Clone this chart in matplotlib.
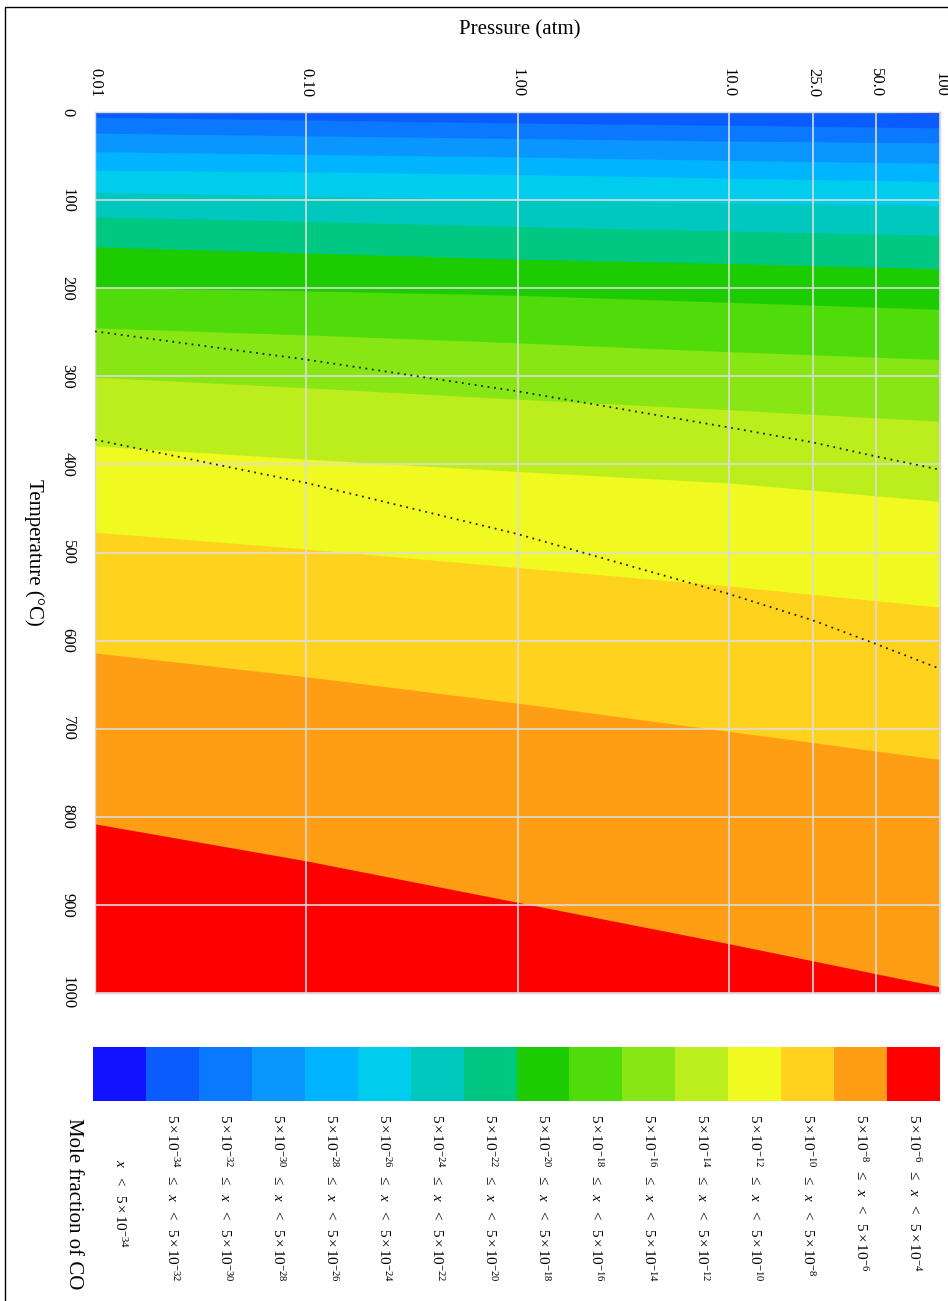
import numpy as np
import matplotlib
matplotlib.use('Agg')
import matplotlib.pyplot as plt
from matplotlib.colors import ListedColormap, BoundaryNorm
from matplotlib.patches import Rectangle
from matplotlib.ticker import NullLocator

plt.rcParams['font.family'] = ['Liberation Serif', 'DejaVu Serif']
plt.rcParams['mathtext.fontset'] = 'custom'
plt.rcParams['mathtext.rm'] = 'Liberation Serif'
plt.rcParams['mathtext.it'] = 'Liberation Serif:italic'

# ---------------- data ----------------
P_pts = [0.01, 0.1, 1, 10, 100]
# temperature (degC) of each band boundary at the pressures above
b01 = [-9, -7, -4.5, -2, 1.5]
b02 = [6, 9, 12.5, 15, 18]
b03 = [24, 27, 30, 33, 35]
b04 = [45, 48, 51, 55, 58]
b05 = [66, 68, 71, 75, 79]
b06 = [91, 95, 100, 103, 106]
b07 = [119, 124, 130, 135, 140]
b08 = [153, 160, 167, 172, 178]
b09 = [199, 203, 208, 216, 224]
b10 = [245, 253, 262, 272, 281]
b11 = [301, 313, 326, 338, 351]
b12 = [379, 394, 408, 421, 442]
b13 = [477, 496, 517, 538, 562]
b14 = [614, 641, 671, 703, 735]
b15 = [808, 850, 897, 944, 993]

P_dot = [0.01, 0.1, 1, 10, 25, 50, 100]
T_dot_upper = [249, 281, 317, 358, 375, 391, 406]
T_dot_lower = [372, 421, 479, 547, 577, 604, 632]

band_colors = ['#1212ff', '#0a5cff', '#0a78ff', '#0a96ff', '#00b4ff', '#00ccee',
               '#00c8be', '#00c882', '#1ccc00', '#50dc0a', '#88e614', '#bcee1e',
               '#f0fa20', '#ffd21e', '#ff9e14', '#ff0000']

band_labels = [
    r'            $x\ \ <\ \ 5\,{\times}\,10^{-34}$',
    r'$5\,{\times}\,10^{-34}\ \ \leq\ \ x\ \ <\ \ 5\,{\times}\,10^{-32}$',
    r'$5\,{\times}\,10^{-32}\ \ \leq\ \ x\ \ <\ \ 5\,{\times}\,10^{-30}$',
    r'$5\,{\times}\,10^{-30}\ \ \leq\ \ x\ \ <\ \ 5\,{\times}\,10^{-28}$',
    r'$5\,{\times}\,10^{-28}\ \ \leq\ \ x\ \ <\ \ 5\,{\times}\,10^{-26}$',
    r'$5\,{\times}\,10^{-26}\ \ \leq\ \ x\ \ <\ \ 5\,{\times}\,10^{-24}$',
    r'$5\,{\times}\,10^{-24}\ \ \leq\ \ x\ \ <\ \ 5\,{\times}\,10^{-22}$',
    r'$5\,{\times}\,10^{-22}\ \ \leq\ \ x\ \ <\ \ 5\,{\times}\,10^{-20}$',
    r'$5\,{\times}\,10^{-20}\ \ \leq\ \ x\ \ <\ \ 5\,{\times}\,10^{-18}$',
    r'$5\,{\times}\,10^{-18}\ \ \leq\ \ x\ \ <\ \ 5\,{\times}\,10^{-16}$',
    r'$5\,{\times}\,10^{-16}\ \ \leq\ \ x\ \ <\ \ 5\,{\times}\,10^{-14}$',
    r'$5\,{\times}\,10^{-14}\ \ \leq\ \ x\ \ <\ \ 5\,{\times}\,10^{-12}$',
    r'$5\,{\times}\,10^{-12}\ \ \leq\ \ x\ \ <\ \ 5\,{\times}\,10^{-10}$',
    r'$5\,{\times}\,10^{-10}\ \ \leq\ \ x\ \ <\ \ 5\,{\times}\,10^{-8}$',
    r'$5\,{\times}\,10^{-8}\ \ \leq\ \ x\ \ <\ \ 5\,{\times}\,10^{-6}$',
    r'$5\,{\times}\,10^{-6}\ \ \leq\ \ x\ \ <\ \ 5\,{\times}\,10^{-4}$',
]

p_ticks = [0.01, 0.1, 1, 10, 25, 50, 100]
p_ticklabels = ['0.01', '0.10', '1.00', '10.0', '25.0', '50.0', '100']
t_ticks = [0, 100, 200, 300, 400, 500, 600, 700, 800, 900, 1000]
t_ticklabels = [str(t) for t in t_ticks]

# ---------------- figure ----------------
W, H = 948, 1301
fig = plt.figure(figsize=(W / 100, H / 100), dpi=100)
fig.patch.set_facecolor('white')

ax = fig.add_axes([95 / W, 1 - 993 / H, 845 / W, 881 / H])
ax.set_xscale('log')

bounds = [b01, b02, b03, b04, b05, b06, b07, b08, b09, b10, b11, b12, b13, b14, b15]
bottom_edge = [1100] * len(P_pts)
top_edge = [-100] * len(P_pts)
for k, col in enumerate(band_colors):
    lo = top_edge if k == 0 else bounds[k - 1]
    ax.fill_between(P_pts, lo, bottom_edge, color=col, linewidth=0, zorder=1)

ax.plot(P_dot, T_dot_upper, color='#222222', lw=1.3, linestyle=(0, (1, 2.6)), zorder=3)
ax.plot(P_dot, T_dot_lower, color='#222222', lw=1.3, linestyle=(0, (1, 2.6)), zorder=3)

ax.set_xlim(0.01, 100)
ax.set_ylim(1000, 0)
ax.xaxis.set_ticks_position('top')
ax.set_xticks(p_ticks)
ax.set_xticklabels(p_ticklabels, rotation=-90, fontsize=12)
ax.xaxis.set_minor_locator(NullLocator())
ax.set_yticks(t_ticks)
ax.set_yticklabels(t_ticklabels, rotation=-90, fontsize=12, va='center')
ax.tick_params(axis='x', length=0, pad=11)
ax.tick_params(axis='y', length=0, pad=14)
ax.grid(True, color='#dcdcdc', lw=1.3, alpha=0.9, zorder=2)
for s in ax.spines.values():
    s.set_color('#d8d8d8')
    s.set_linewidth(1.0)

fig.text(520 / W, 1 - 30 / H, 'Pressure (atm)', fontsize=15, ha='center', va='center')
fig.text(34 / W, 1 - 552 / H, 'Temperature (\u00b0C)', fontsize=15, rotation=-90,
         ha='center', va='center')

# ---------------- colour bar ----------------
cax = fig.add_axes([93 / W, 1 - 1101 / H, 847 / W, 54 / H])
n = len(band_colors)
cmap = ListedColormap(band_colors)
norm = BoundaryNorm(np.arange(n + 1) - 0.5, n)
cax.pcolormesh(np.arange(n + 1), [0, 1], np.arange(n)[None, :], cmap=cmap, norm=norm)
cax.set_xlim(0, n)
cax.set_ylim(0, 1)
cax.set_xticks(np.arange(n) + 0.5)
cax.set_xticklabels(band_labels, rotation=-90, fontsize=11, va='top', ha='center')
cax.set_yticks([])
cax.tick_params(axis='x', length=0, pad=9)
for s in cax.spines.values():
    s.set_visible(False)

fig.text(73 / W, 1 - 1204 / H, 'Mole fraction of CO', fontsize=15, rotation=-90,
         ha='center', va='center')

# outer frame (cropped screenshot border)
fig.add_artist(Rectangle((5 / W, -0.1), 2, (1 - 7 / H) + 0.1, transform=fig.transFigure,
                         fill=False, ec='black', lw=1.0))

fig.savefig('out.png', dpi=100)
